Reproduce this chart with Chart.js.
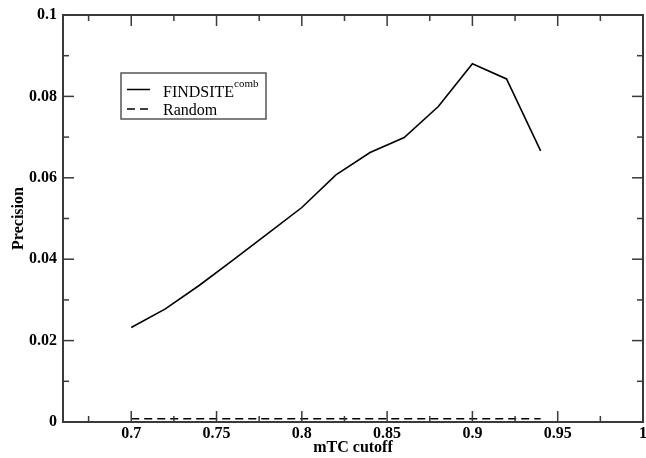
<!DOCTYPE html>
<html>
<head>
<meta charset="utf-8">
<script src="https://cdn.jsdelivr.net/npm/chart.js@4/dist/chart.umd.min.js"></script>
<style>
  html, body { margin: 0; padding: 0; background: #fff; }
  canvas { display: block; }
</style>
</head>
<body>
<canvas id="precision-chart" width="646" height="458"></canvas>
<script>
// values
const cutoffs = [0.70, 0.72, 0.74, 0.76, 0.78, 0.80, 0.82, 0.84, 0.86, 0.88, 0.90, 0.92, 0.94]
const findsite = [0.0232, 0.0278, 0.0336, 0.0399, 0.0463, 0.0527, 0.0607, 0.0662, 0.0699, 0.0775, 0.0880, 0.0843, 0.0666]
const random = [0.0008, 0.0008, 0.0008, 0.0008, 0.0008, 0.0008, 0.0008, 0.0008, 0.0008, 0.0008, 0.0008, 0.0008, 0.0008]

const xTicks = [0.70, 0.75, 0.80, 0.85, 0.90, 0.95, 1.00]
const xTickLabels = ['0.7', '0.75', '0.8', '0.85', '0.9', '0.95', '1']
const xMinorTicks = [0.675, 0.725, 0.775, 0.825, 0.875, 0.925, 0.975]
const yTicks = [0, 0.02, 0.04, 0.06, 0.08, 0.1]
const yTickLabels = ['0', '0.02', '0.04', '0.06', '0.08', '0.1']
const yMinorTicks = [0.01, 0.03, 0.05, 0.07, 0.09]

const seriesNames = ['FINDSITE', 'Random']
const FONT = "'Liberation Serif', 'Times New Roman', serif"

// box + inward ticks on all four sides
const framePlugin = {
  id: 'frame',
  afterDatasetsDraw(chart) {
    const ctx = chart.ctx
    const { left, right, top, bottom } = chart.chartArea
    const xs = chart.scales.x, ys = chart.scales.y
    ctx.save()
    ctx.strokeStyle = '#3a3a3a'
    ctx.lineWidth = 2
    ctx.strokeRect(left, top, right - left, bottom - top)
    const tick = (x1, y1, x2, y2) => {
      ctx.beginPath(); ctx.moveTo(x1, y1); ctx.lineTo(x2, y2); ctx.stroke()
    }
    ctx.lineWidth = 1.5
    xTicks.forEach((v) => {
      const px = xs.getPixelForValue(v)
      tick(px, bottom, px, bottom - 11)
      tick(px, top, px, top + 11)
    })
    xMinorTicks.forEach((v) => {
      const px = xs.getPixelForValue(v)
      tick(px, bottom, px, bottom - 6)
      tick(px, top, px, top + 6)
    })
    yTicks.forEach((v) => {
      const py = ys.getPixelForValue(v)
      tick(left, py, left + 11, py)
      tick(right, py, right - 11, py)
    })
    yMinorTicks.forEach((v) => {
      const py = ys.getPixelForValue(v)
      tick(left, py, left + 6, py)
      tick(right, py, right - 6, py)
    })
    ctx.restore()
  }
}

// legend with superscript, drawn by hand
const legendPlugin = {
  id: 'xmgrLegend',
  afterDraw(chart) {
    const ctx = chart.ctx
    const bx = 121, by = 73, bw = 145, bh = 46
    ctx.save()
    ctx.strokeStyle = '#555'
    ctx.lineWidth = 1.5
    ctx.strokeRect(bx, by, bw, bh)

    ctx.strokeStyle = '#000'
    ctx.lineWidth = 1.5
    ctx.beginPath(); ctx.moveTo(127, 89.5); ctx.lineTo(150, 89.5); ctx.stroke()
    ctx.setLineDash([8, 5])
    ctx.beginPath(); ctx.moveTo(127, 109); ctx.lineTo(150, 109); ctx.stroke()
    ctx.setLineDash([])

    ctx.fillStyle = '#000'
    ctx.textBaseline = 'alphabetic'
    ctx.textAlign = 'left'
    ctx.font = '16px ' + FONT
    ctx.fillText(seriesNames[0], 163, 96.5)
    const w = ctx.measureText(seriesNames[0]).width
    ctx.font = '11px ' + FONT
    ctx.fillText('comb', 163 + w, 86.5)
    ctx.font = '16px ' + FONT
    ctx.fillText(seriesNames[1], 163, 114.5)
    ctx.restore()
  }
}

const ctx = document.getElementById('precision-chart')
new Chart(ctx, {
  type: 'line',
  data: {
    datasets: [
      {
        label: seriesNames[0],
        data: cutoffs.map((c, i) => ({ x: c, y: findsite[i] })),
        borderColor: '#000',
        borderWidth: 1.6,
        pointRadius: 0,
        tension: 0,
        fill: false
      },
      {
        label: seriesNames[1],
        data: cutoffs.map((c, i) => ({ x: c, y: random[i] })),
        borderColor: '#000',
        borderWidth: 1.5,
        borderDash: [8, 5],
        pointRadius: 0,
        tension: 0,
        fill: false
      }
    ]
  },
  options: {
    responsive: false,
    animation: false,
    layout: { padding: { left: 0, top: 15, right: 3, bottom: 0 } },
    plugins: {
      legend: { display: false },
      tooltip: { enabled: false }
    },
    scales: {
      x: {
        type: 'linear',
        min: 0.66,
        max: 1.0,
        border: { display: false },
        grid: { display: false, drawTicks: false },
        afterBuildTicks: (scale) => { scale.ticks = xTicks.map((v) => ({ value: v })) },
        afterFit: (scale) => {
          scale.height = 36
          scale.paddingLeft = 0
          scale.paddingRight = 0
        },
        ticks: {
          padding: 2,
          color: '#000',
          maxRotation: 0,
          autoSkip: false,
          font: { family: FONT, size: 16, weight: 'bold' },
          callback: (v) => xTickLabels[xTicks.findIndex((t) => Math.abs(t - v) < 1e-6)]
        },
        title: {
          display: true,
          text: 'mTC cutoff',
          color: '#000',
          font: { family: FONT, size: 16, weight: 'bold' },
          padding: { top: 0, bottom: 1 }
        }
      },
      y: {
        min: 0,
        max: 0.1,
        border: { display: false },
        grid: { display: false, drawTicks: false },
        afterBuildTicks: (scale) => { scale.ticks = yTicks.map((v) => ({ value: v })) },
        afterFit: (scale) => {
          scale.width = 63
          scale.paddingTop = 0
          scale.paddingBottom = 0
        },
        ticks: {
          padding: 6,
          color: '#000',
          autoSkip: false,
          font: { family: FONT, size: 16, weight: 'bold' },
          callback: (v) => yTickLabels[yTicks.findIndex((t) => Math.abs(t - v) < 1e-6)]
        },
        title: {
          display: true,
          text: 'Precision',
          color: '#000',
          font: { family: FONT, size: 16, weight: 'bold' },
          padding: { top: 9, bottom: 0 }
        }
      }
    }
  },
  plugins: [framePlugin, legendPlugin]
})
</script>
</body>
</html>
